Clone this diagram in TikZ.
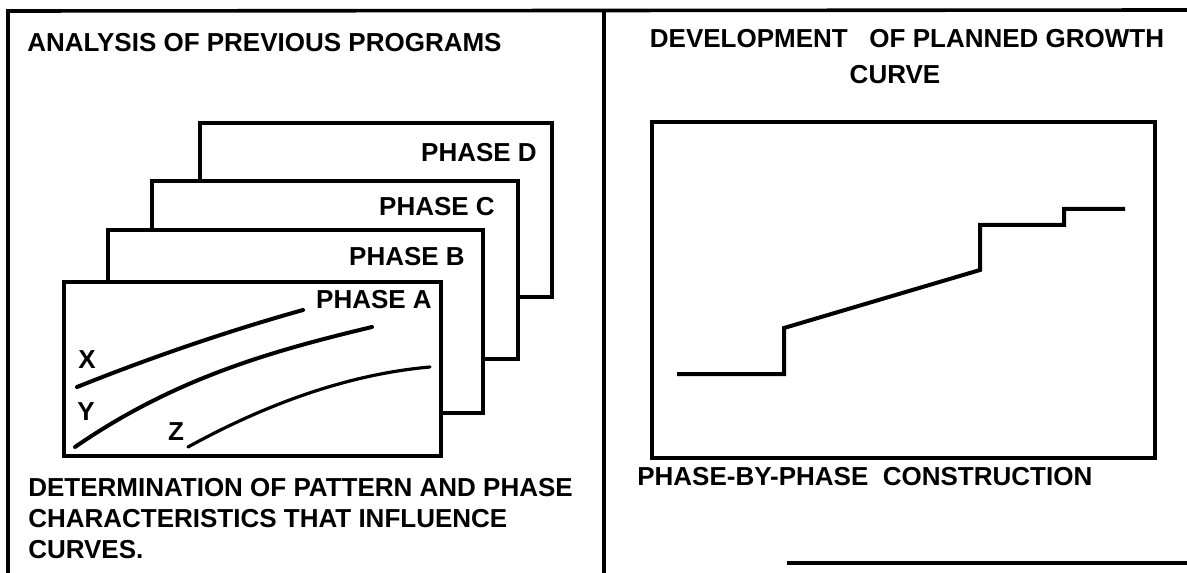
\documentclass[tikz,border=0pt]{standalone}
\usepackage{fontspec}
\setmainfont{Liberation Sans}
\usepackage{tikz}

\begin{document}
\begin{tikzpicture}[x=0.75pt,y=0.75pt,yscale=-1,xscale=1,
  frame/.style={line width=2.7pt},
  phasebox/.style={draw,fill=white,line width=2.6pt},
  curveline/.style={line width=3pt,line cap=round},
  lbl/.style={inner sep=0pt,font=\fontsize{19.5}{24}\selectfont\bfseries}]
\path[use as bounding box] (0,0) rectangle (1187,573);

%Straight Lines: outer frame
\draw [frame]  (8,573) -- (8,11) -- (1187,10) ;
\draw [frame]  (604,10) -- (604,573) ;
\draw [frame]  (787,563) -- (1187,563) ;

%Shape: Rectangle phase D
\draw [phasebox] (200,123) rectangle (552,297) ;
%Shape: Rectangle phase C
\draw [phasebox] (152,181) rectangle (518,359) ;
%Shape: Rectangle phase B
\draw [phasebox] (108,230) rectangle (483,413) ;
%Shape: Rectangle phase A
\draw [phasebox] (64,282) rectangle (441,456) ;

%Curve Lines: X, Y, Z
\draw [curveline] (77,387) .. controls (152,357) and (228,331) .. (303,310) ;
\draw [curveline] (75,447) .. controls (175,378) and (272,351) .. (372,327) ;
\draw [curveline,line width=2.4pt] (188,447) .. controls (268,403) and (350,374) .. (430,367) ;

%Shape: Rectangle growth chart
\draw [line width=2.6pt] (652,122) rectangle (1155,458) ;
%Straight Lines: planned growth curve
\draw [line width=3pt] (677,374) -- (784,374) -- (784,328) -- (980,270) -- (980,225) -- (1064,225) -- (1064,209) -- (1125,209) ;

% Text Node
\node [lbl,anchor=west] (analysis) at (27,43) {ANALYSIS OF PREVIOUS PROGRAMS};
% Text Node
\node [lbl,anchor=east] (phD) at (537,153) {PHASE D};
% Text Node
\node [lbl,anchor=east] (phC) at (495,207) {PHASE C};
% Text Node
\node [lbl,anchor=east] (phB) at (465,257) {PHASE B};
% Text Node
\node [lbl,anchor=east] (phA) at (432,300) {PHASE A};
% Text Node
\node [lbl] (labX) at (87,360) {X};
% Text Node
\node [lbl] (labY) at (86,412) {Y};
% Text Node
\node [lbl] (labZ) at (176,432) {Z};
% Text Node
\node [lbl,anchor=west] (det1) at (28,488) {DETERMINATION OF PATTERN AND PHASE};
% Text Node
\node [lbl,anchor=west] (det2) at (28,519) {CHARACTERISTICS THAT INFLUENCE};
% Text Node
\node [lbl,anchor=west] (det3) at (28,550) {CURVES.};
% Text Node
\node [lbl] (devel) at (907,39) {DEVELOPMENT\ \ \ OF PLANNED GROWTH};
% Text Node
\node [lbl] (curve) at (895,75) {CURVE};
% Text Node
\node [lbl,anchor=west] (phasebyphase) at (637,477) {PHASE-BY-PHASE\ \ CONSTRUCTION};

\end{tikzpicture}
\end{document}
